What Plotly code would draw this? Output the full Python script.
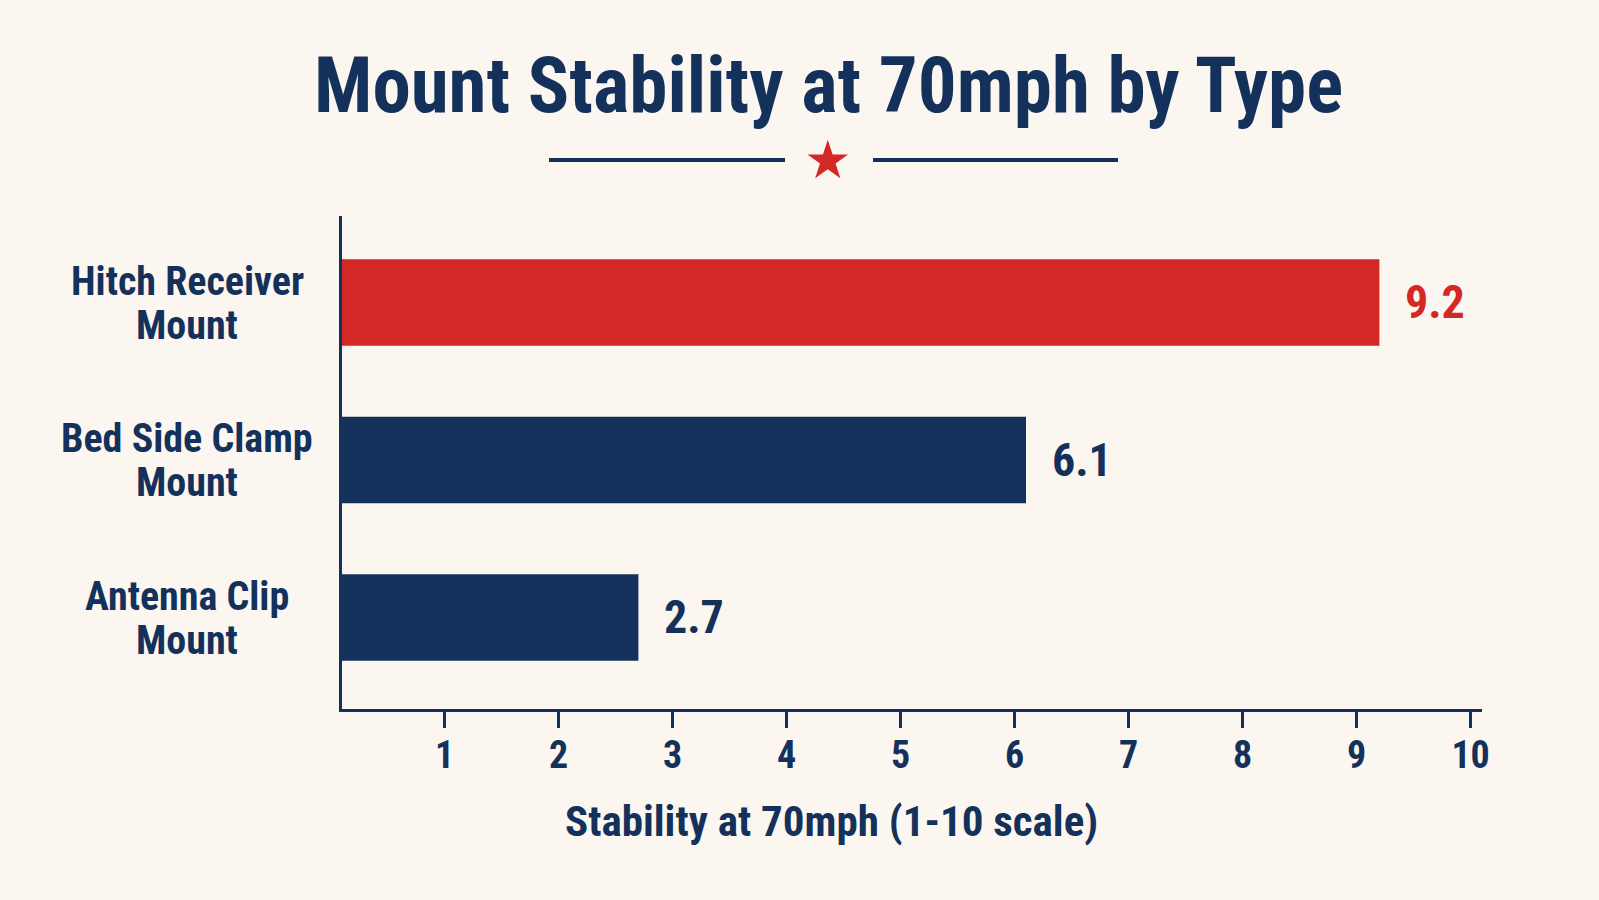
import plotly.graph_objects as go

categories = ["Hitch Receiver Mount", "Bed Side Clamp Mount", "Antenna Clip Mount"]
category_labels = ["Hitch Receiver<br>Mount", "Bed Side Clamp<br>Mount", "Antenna Clip<br>Mount"]
stability = [9.2, 6.1, 2.7]
value_labels = ["9.2", "6.1", "2.7"]
tick_values = [1, 2, 3, 4, 5, 6, 7, 8, 9, 10]
tick_labels = ["1", "2", "3", "4", "5", "6", "7", "8", "9", "10"]

RED = "#D42826"
NAVY = "#13315A"
BG = "#FBF6F0"
FONT = "Roboto Condensed, Liberation Sans Narrow, DejaVu Sans Condensed, Arial Narrow, sans-serif"

W, H = 1599, 900
L, R, T, B = 342, 117, 216, 191
PW, PH = W - L - R, H - T - B


def px(xp):
    return (xp - L) / PW


def py(yp):
    return (H - B - yp) / PH


bar_colors = [RED, NAVY, NAVY]
label_colors = [RED, NAVY, NAVY]

fig = go.Figure()
fig.add_trace(go.Bar(
    y=categories,
    x=stability,
    orientation="h",
    width=0.55,
    marker=dict(color=bar_colors, line=dict(width=0)),
    hoverinfo="skip",
    showlegend=False,
))

annotations = []
# value labels
for cat, val, lab, col in zip(categories, stability, value_labels, label_colors):
    annotations.append(dict(
        x=val, y=cat, xref="x", yref="y", text=f"<b>{lab}</b>",
        showarrow=False, xanchor="left", yanchor="middle", xshift=24,
        font=dict(family=FONT, size=46, color=col),
    ))
# category labels (centered, two lines with custom spacing)
line_shifts = [21, -23]
for cat, lab in zip(categories, category_labels):
    for line, shift in zip(lab.split("<br>"), line_shifts):
        annotations.append(dict(
            x=px(187), y=cat, xref="paper", yref="y", text=f"<b>{line}</b>",
            showarrow=False, xanchor="center", yanchor="middle", align="center",
            yshift=shift,
            font=dict(family=FONT, size=40, color=NAVY),
        ))
# title
annotations.append(dict(
    x=px(828), y=py(86), xref="paper", yref="paper",
    text="<b>Mount Stability at 70mph by Type</b>", showarrow=False,
    xanchor="center", yanchor="middle",
    font=dict(family=FONT, size=77, color=NAVY),
))
# star ornament
annotations.append(dict(
    x=px(828), y=py(160), xref="paper", yref="paper",
    text="★", showarrow=False, xanchor="center", yanchor="middle",
    font=dict(family="DejaVu Sans", size=53, color=RED),
))
# x-axis title
annotations.append(dict(
    x=px(831), y=py(821), xref="paper", yref="paper",
    text="<b>Stability at 70mph (1-10 scale)</b>", showarrow=False,
    xanchor="center", yanchor="middle",
    font=dict(family=FONT, size=43, color=NAVY),
))

shapes = [
    dict(type="line", xref="paper", yref="paper", x0=px(549), x1=px(785),
         y0=py(160), y1=py(160), line=dict(color=NAVY, width=4)),
    dict(type="line", xref="paper", yref="paper", x0=px(873), x1=px(1118),
         y0=py(160), y1=py(160), line=dict(color=NAVY, width=4)),
]

fig.update_layout(
    width=W, height=H,
    margin=dict(l=L, r=R, t=T, b=B),
    paper_bgcolor=BG, plot_bgcolor=BG,
    annotations=annotations,
    shapes=shapes,
    xaxis=dict(
        range=[0.1, 10.1],
        tickvals=tick_values, ticktext=tick_labels,
        showgrid=False, zeroline=False,
        showline=True, linecolor=NAVY, linewidth=3,
        ticks="outside", ticklen=16, tickwidth=2.5, tickcolor=NAVY,
        ticklabelstandoff=-6,
        tickfont=dict(family=FONT, size=38, color=NAVY, weight="bold"),
        fixedrange=True,
    ),
    yaxis=dict(
        categoryorder="array", categoryarray=categories,
        range=[2.581, -0.549],
        showticklabels=False, showgrid=False, zeroline=False,
        showline=True, linecolor=NAVY, linewidth=3, ticks="",
        fixedrange=True,
    ),
)

fig.write_html(
    "out.html",
    config={"displayModeBar": False},
    post_script=(
        "document.body.style.margin='0';"
        "document.body.style.overflow='hidden';"
        "document.body.style.background='" + BG + "';"
    ),
)
